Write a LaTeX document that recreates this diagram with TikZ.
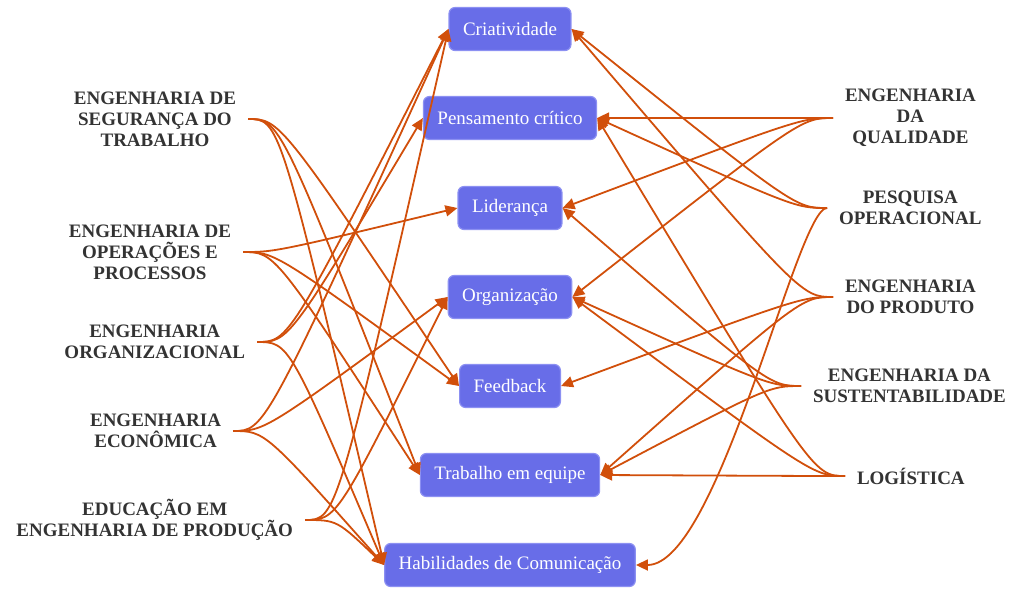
\documentclass[tikz,border=0pt]{standalone}
\usepackage{fontspec}
\setmainfont{Liberation Serif}
\newfontfamily\timesrm{Liberation Serif}
\usetikzlibrary{arrows.meta}
\definecolor{linkc}{HTML}{D14F0B}
\definecolor{boxc}{HTML}{686DE8}
\definecolor{boxline}{HTML}{8C90F2}
\definecolor{lblc}{HTML}{333333}
\begin{document}
\begin{tikzpicture}[x=1pt,y=-1pt,
 skill/.style={rectangle,rounded corners=6pt,fill=boxc,draw=boxline,line width=1.2pt,text=white,font=\timesrm\fontsize{19}{22}\selectfont,minimum height=43pt,inner xsep=14pt},
 area/.style={align=center,text=lblc,font=\timesrm\fontsize{19}{21}\selectfont\bfseries,inner xsep=12pt,inner ysep=0pt,outer sep=0pt},
 link/.style={draw=linkc,line width=1.8pt,-{Triangle[length=12pt,width=11pt]}}]
 \useasboundingbox (0,0) rectangle (1014,590);
 \node[skill] (cri) at (510,29) {Criatividade};
 \node[skill] (pen) at (510,118) {Pensamento crítico};
 \node[skill] (lid) at (510,208) {Liderança};
 \node[skill] (org) at (510,297) {Organização};
 \node[skill] (fee) at (510,386) {Feedback};
 \node[skill] (tra) at (510,475) {Trabalho em equipe};
 \node[skill] (hab) at (510,565) {Habilidades de Comunicação};
 \node[area,anchor=east] (seg) at (248,119) {ENGENHARIA DE\\SEGURANÇA DO\\TRABALHO};
 \node[area,anchor=east] (ope) at (243,252) {ENGENHARIA DE\\OPERAÇÕES E\\PROCESSOS};
 \node[area,anchor=east] (eor) at (257,342) {ENGENHARIA\\ORGANIZACIONAL};
 \node[area,anchor=east] (eco) at (233,431) {ENGENHARIA\\ECONÔMICA};
 \node[area,anchor=east] (edu) at (305,520) {EDUCAÇÃO EM\\ENGENHARIA DE PRODUÇÃO};
 \node[area,anchor=west] (qua) at (833,118) {ENGENHARIA\\DA\\QUALIDADE};
 \node[area,anchor=west] (pop) at (827,208) {PESQUISA\\OPERACIONAL};
 \node[area,anchor=west] (pro) at (833,297) {ENGENHARIA\\DO PRODUTO};
 \node[area,anchor=west] (sus) at (801,386) {ENGENHARIA DA\\SUSTENTABILIDADE};
 \node[area,anchor=west] (log) at (845,476) {LOGÍSTICA};
 \draw[link] (seg.east) .. controls +(32,0) .. (fee.west);
 \draw[link] (seg.east) .. controls +(32,0) .. (tra.west);
 \draw[link] (seg.east) .. controls +(32,0) .. (hab.west);
 \draw[link] (ope.east) .. controls +(32,0) .. (lid.west);
 \draw[link] (ope.east) .. controls +(32,0) .. (fee.west);
 \draw[link] (ope.east) .. controls +(32,0) .. (tra.west);
 \draw[link] (eor.east) .. controls +(32,0) .. (cri.west);
 \draw[link] (eor.east) .. controls +(32,0) .. (pen.west);
 \draw[link] (eor.east) .. controls +(32,0) .. (hab.west);
 \draw[link] (eco.east) .. controls +(32,0) .. (cri.west);
 \draw[link] (eco.east) .. controls +(32,0) .. (org.west);
 \draw[link] (eco.east) .. controls +(32,0) .. (hab.west);
 \draw[link] (edu.east) .. controls +(32,0) .. (cri.west);
 \draw[link] (edu.east) .. controls +(32,0) .. (org.west);
 \draw[link] (edu.east) .. controls +(32,0) .. (hab.west);
 \draw[link] (qua.west) .. controls +(-32,0) .. (pen.east);
 \draw[link] (qua.west) .. controls +(-32,0) .. (lid.east);
 \draw[link] (qua.west) .. controls +(-32,0) .. (org.east);
 \draw[link] (pop.west) .. controls +(-32,0) .. (cri.east);
 \draw[link] (pop.west) .. controls +(-32,0) .. (pen.east);
 \draw[link] (pop.west) .. controls +(-30,0) and +(83,0) .. (hab.east);
 \draw[link] (pro.west) .. controls +(-32,0) .. (cri.east);
 \draw[link] (pro.west) .. controls +(-32,0) .. (fee.east);
 \draw[link] (pro.west) .. controls +(-32,0) .. (tra.east);
 \draw[link] (sus.west) .. controls +(-32,0) .. (lid.east);
 \draw[link] (sus.west) .. controls +(-32,0) .. (org.east);
 \draw[link] (sus.west) .. controls +(-32,0) .. (tra.east);
 \draw[link] (log.west) .. controls +(-32,0) .. (pen.east);
 \draw[link] (log.west) .. controls +(-32,0) .. (org.east);
 \draw[link] (log.west) .. controls +(-32,0) .. (tra.east);
\end{tikzpicture}
\end{document}
